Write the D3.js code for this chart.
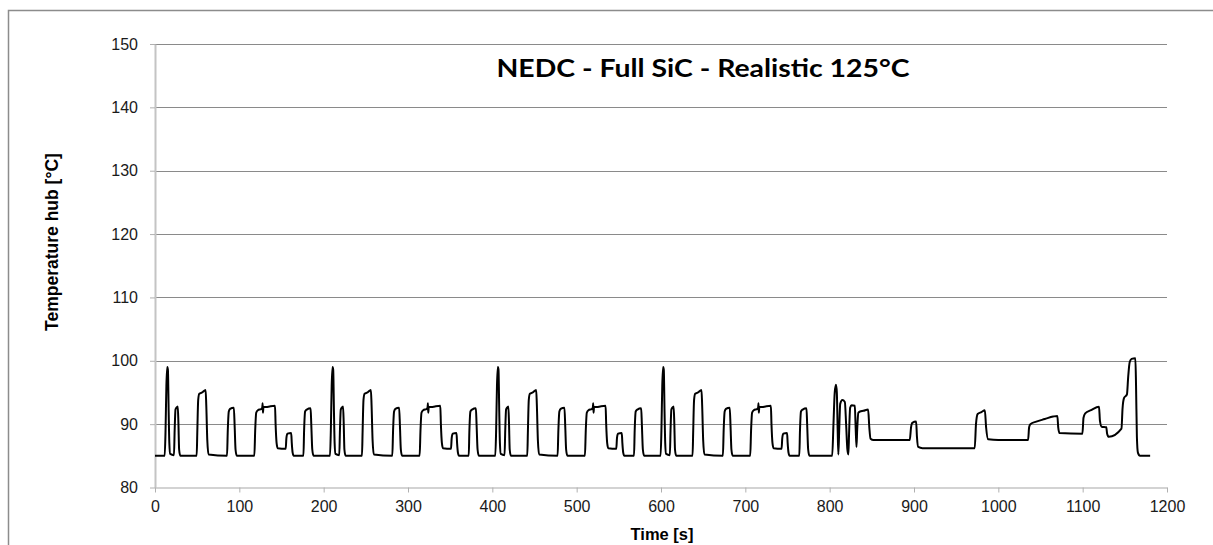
<!DOCTYPE html>
<html>
<head>
<meta charset="utf-8">
<script src="https://cdn.jsdelivr.net/npm/d3@7"></script>
<style>
  html, body { margin: 0; padding: 0; background: #fff; }
  svg { display: block; }
</style>
</head>
<body>
<div id="chart"></div>
<script>
// axis ticks
const yTicks = [80, 90, 100, 110, 120, 130, 140, 150];
const xTicks = [0, 100, 200, 300, 400, 500, 600, 700, 800, 900, 1000, 1100, 1200];

// urban cycles (ECE)
const urban1Time = [0, 11.5, 12.5, 13.5, 14.5, 15.3, 16.2, 17, 18, 22.5, 23.3, 24.3, 25.5, 27, 27.8, 28.6, 30, 49.4, 50.2, 51.2, 52.5, 56, 60, 60.8, 62, 63.5, 85.4, 86.3, 87.5, 89, 93.5, 94.5, 95.5, 97, 117.8, 118.8, 120, 122, 126, 127.2, 127.6, 128, 128.6, 132, 136, 142.3, 143, 144.2, 145.5, 155, 155.8, 157, 161.5, 162.2, 163.2, 164.5, 176, 176.8, 178, 180, 184.5, 185.3, 186.5, 188];
const urban1Temp = [85, 85, 89, 96, 99, 98.6, 92, 87, 85.3, 85.1, 89, 92.3, 92.6, 92.8, 90, 86, 85, 85, 89, 93.8, 94.8, 95, 95.4, 93, 87.5, 85.2, 85, 89, 92, 92.4, 92.6, 89.5, 86, 85, 85, 89, 91.8, 92.2, 92.4, 92.6, 93.3, 91.8, 92.7, 92.7, 92.8, 92.9, 90, 87, 86.2, 86.1, 87.8, 88.5, 88.6, 87, 85.5, 85, 85, 89, 92, 92.3, 92.5, 90, 86, 85];

const urban2Time = [207.5, 208.5, 209.5, 210.5, 211.3, 212.2, 213, 214, 218.5, 219.3, 220.3, 221.5, 223, 223.8, 224.6, 226, 245.4, 246.2, 247.2, 248.5, 252, 256, 256.8, 258, 259.5, 281.4, 282.3, 283.5, 285, 289.5, 290.5, 291.5, 293, 313.8, 314.8, 316, 318, 322, 323.2, 323.6, 324, 324.6, 328, 332, 338.3, 339, 340.2, 341.5, 351, 351.8, 353, 357.5, 358.2, 359.2, 360.5, 372, 372.8, 374, 376, 380.5, 381.3, 382.5, 384];
const urban2Temp = [85, 89, 96, 99, 98.6, 92, 87, 85.3, 85.1, 89, 92.3, 92.6, 92.8, 90, 86, 85, 85, 89, 93.8, 94.8, 95, 95.4, 93, 87.5, 85.2, 85, 89, 92, 92.4, 92.6, 89.5, 86, 85, 85, 89, 91.8, 92.2, 92.4, 92.6, 93.3, 91.8, 92.7, 92.7, 92.8, 92.9, 90, 87, 86.2, 86.1, 87.8, 88.5, 88.6, 87, 85.5, 85, 85, 89, 92, 92.3, 92.5, 90, 86, 85];

const urban3Time = [403.5, 404.5, 405.5, 406.5, 407.3, 408.2, 409, 410, 414.5, 415.3, 416.3, 417.5, 419, 419.8, 420.6, 422, 441.4, 442.2, 443.2, 444.5, 448, 452, 452.8, 454, 455.5, 477.4, 478.3, 479.5, 481, 485.5, 486.5, 487.5, 489, 509.8, 510.8, 512, 514, 518, 519.2, 519.6, 520, 520.6, 524, 528, 534.3, 535, 536.2, 537.5, 547, 547.8, 549, 553.5, 554.2, 555.2, 556.5, 568, 568.8, 570, 572, 576.5, 577.3, 578.5, 580];
const urban3Temp = [85, 89, 96, 99, 98.6, 92, 87, 85.3, 85.1, 89, 92.3, 92.6, 92.8, 90, 86, 85, 85, 89, 93.8, 94.8, 95, 95.4, 93, 87.5, 85.2, 85, 89, 92, 92.4, 92.6, 89.5, 86, 85, 85, 89, 91.8, 92.2, 92.4, 92.6, 93.3, 91.8, 92.7, 92.7, 92.8, 92.9, 90, 87, 86.2, 86.1, 87.8, 88.5, 88.6, 87, 85.5, 85, 85, 89, 92, 92.3, 92.5, 90, 86, 85];

const urban4Time = [599.5, 600.5, 601.5, 602.5, 603.3, 604.2, 605, 606, 610.5, 611.3, 612.3, 613.5, 615, 615.8, 616.6, 618, 637.4, 638.2, 639.2, 640.5, 644, 648, 648.8, 650, 651.5, 673.4, 674.3, 675.5, 677, 681.5, 682.5, 683.5, 685, 705.8, 706.8, 708, 710, 714, 715.2, 715.6, 716, 716.6, 720, 724, 730.3, 731, 732.2, 733.5, 743, 743.8, 745, 749.5, 750.2, 751.2, 752.5, 764, 764.8, 766, 768, 772.5, 773.3, 774.5, 776];
const urban4Temp = [85, 89, 96, 99, 98.6, 92, 87, 85.3, 85.1, 89, 92.3, 92.6, 92.8, 90, 86, 85, 85, 89, 93.8, 94.8, 95, 95.4, 93, 87.5, 85.2, 85, 89, 92, 92.4, 92.6, 89.5, 86, 85, 85, 89, 91.8, 92.2, 92.4, 92.6, 93.3, 91.8, 92.7, 92.7, 92.8, 92.9, 90, 87, 86.2, 86.1, 87.8, 88.5, 88.6, 87, 85.5, 85, 85, 89, 92, 92.3, 92.5, 90, 86, 85];

// extra-urban part (EUDC)
const extraTime = [803, 804.5, 806, 807.5, 808.5, 809.5, 810.3, 811.3, 812.5, 815, 818, 819.5, 821, 822.2, 823, 824.3, 826, 829.8, 830.8, 831.8, 832.6, 834, 836, 840, 845.6, 847, 848.5, 852, 895, 896.5, 898, 902.5, 903.5, 905, 910, 972, 973.5, 975.5, 980, 984, 985.5, 988, 1000, 1035.3, 1036.5, 1038, 1045, 1055, 1065, 1070, 1071, 1072.5, 1099.7, 1101, 1103, 1110, 1119.4, 1120.5, 1122.5, 1128, 1129, 1131, 1146, 1147.3, 1149, 1152.5, 1154, 1155.8, 1158, 1162.5, 1163.3, 1164.3, 1165.5, 1168, 1180];
const extraTemp = [85, 90, 95, 96.2, 95, 89, 85.2, 89, 93.2, 93.8, 93.5, 90, 86, 85.2, 88.5, 92.6, 93.0, 92.9, 89.5, 86.4, 89, 91.8, 92.0, 92.1, 92.3, 89.5, 87.7, 87.5, 87.5, 89.5, 90.2, 90.4, 88, 86.4, 86.2, 86.2, 90, 91.6, 91.9, 92.2, 89.5, 87.6, 87.5, 87.5, 89.5, 90.0, 90.4, 90.8, 91.2, 91.3, 89.5, 88.6, 88.5, 91.0, 91.7, 92.2, 92.75, 90.5, 89.6, 89.5, 88.5, 88.0, 89.3, 92.5, 94.1, 94.7, 97.5, 99.8, 100.3, 100.4, 96, 88, 85.5, 85.0, 85.0];

const W = 1213, H = 545;
const plotLeft = 155, plotRight = 1167, plotTop = 44, plotBottom = 487.5;

const svg = d3.select('#chart').append('svg')
  .attr('width', W)
  .attr('height', H)
  .style('font-family', '"Liberation Sans", Arial, sans-serif');

// outer chart frame, cut by the picture edges
svg.append('rect')
  .attr('x', 8.5).attr('y', 10.5)
  .attr('width', 1300).attr('height', 700)
  .attr('fill', 'none')
  .attr('stroke', '#8c8c8c')
  .attr('stroke-width', 1.5);

const x = d3.scaleLinear().domain([0, 1200]).range([plotLeft, plotRight]);
const y = d3.scaleLinear().domain([80, 150]).range([plotBottom, plotTop]);

// gridlines
svg.append('g')
  .selectAll('line')
  .data(yTicks.slice(1))
  .enter()
  .append('line')
  .attr('x1', plotLeft).attr('x2', plotRight)
  .attr('y1', d => Math.round(y(d)) + 0.5)
  .attr('y2', d => Math.round(y(d)) + 0.5)
  .attr('stroke', '#8a8a8a')
  .attr('stroke-width', 1);

// y axis
const yAxis = svg.append('g')
  .attr('transform', 'translate(' + plotLeft + ',0)')
  .call(d3.axisLeft(y).tickValues(yTicks).tickSize(5).tickSizeOuter(0).tickPadding(12));
yAxis.select('.domain').attr('stroke', '#c4c4c4').attr('stroke-width', 2);
yAxis.selectAll('.tick line').attr('stroke', '#b0b0b0');
yAxis.selectAll('.tick text')
  .attr('font-size', '16px')
  .attr('fill', '#1a1a1a')
  .style('font-family', '"Liberation Sans", Arial, sans-serif');

// x axis
const xAxis = svg.append('g')
  .attr('transform', 'translate(0,' + plotBottom + ')')
  .call(d3.axisBottom(x).tickValues(xTicks).tickFormat(d3.format('d'))
    .tickSize(5).tickSizeOuter(0).tickPadding(8));
xAxis.select('.domain').attr('stroke', '#c4c4c4').attr('stroke-width', 1.5);
xAxis.selectAll('.tick line').attr('stroke', '#b0b0b0');
xAxis.selectAll('.tick text')
  .attr('font-size', '16px')
  .attr('fill', '#1a1a1a')
  .style('font-family', '"Liberation Sans", Arial, sans-serif');

// the temperature trace
const pts = [];
[[urban1Time, urban1Temp], [urban2Time, urban2Temp], [urban3Time, urban3Temp],
 [urban4Time, urban4Temp], [extraTime, extraTemp]].forEach(function (s) {
  s[0].forEach(function (t, i) { pts.push([t, s[1][i]]); });
});

const line = d3.line()
  .x(d => x(d[0]))
  .y(d => y(d[1]))
  .curve(d3.curveMonotoneX);

svg.append('path')
  .datum(pts)
  .attr('d', line)
  .attr('fill', 'none')
  .attr('stroke', '#000')
  .attr('stroke-width', 2)
  .attr('stroke-linejoin', 'round');

// titles
svg.append('text')
  .attr('x', 703).attr('y', 76.5)
  .attr('text-anchor', 'middle')
  .attr('font-family', 'Lato, "Open Sans", sans-serif')
  .attr('font-weight', 'bold')
  .attr('font-size', '24px')
  .attr('fill', '#000')
  .attr('textLength', 413)
  .attr('lengthAdjust', 'spacingAndGlyphs')
  .text('NEDC - Full SiC - Realistic 125°C');

svg.append('text')
  .attr('x', 662).attr('y', 540)
  .attr('text-anchor', 'middle')
  .attr('font-weight', 'bold')
  .attr('font-size', '16.5px')
  .attr('fill', '#000')
  .text('Time [s]');

svg.append('text')
  .attr('transform', 'translate(58,242) rotate(-90)')
  .attr('text-anchor', 'middle')
  .attr('font-weight', 'bold')
  .attr('font-size', '17.5px')
  .attr('fill', '#000')
  .text('Temperature hub [°C]');
</script>
</body>
</html>
